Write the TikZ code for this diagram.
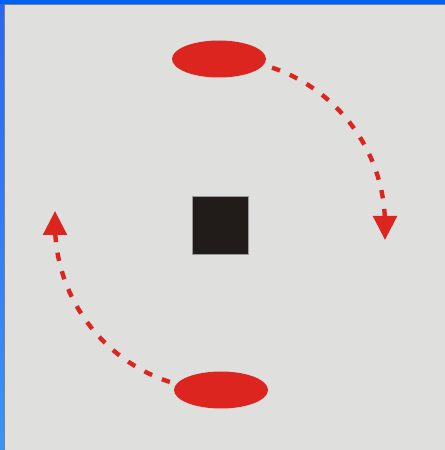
\documentclass[tikz,border=0pt]{standalone}
\usetikzlibrary{arrows.meta,shapes.geometric,backgrounds}
\definecolor{winblue}{HTML}{0062F2}
\definecolor{edgetop}{HTML}{2A66F0}
\definecolor{edgebot}{HTML}{3A94F4}
\definecolor{panelgray}{HTML}{DFDFDD}
\definecolor{blobred}{HTML}{DC251F}
\definecolor{boxblack}{HTML}{211C1A}
\tikzset{>={Triangle[length=18pt,width=17.5pt]}}
\tikzset{
  blob/.style={ellipse,fill=blobred,minimum width=70.5pt,minimum height=27.75pt,inner sep=0pt},
  block/.style={draw=gray!80,line width=0.6pt,fill=boxblack,minimum width=42pt,minimum height=43.5pt,inner sep=0pt},
  orbit/.style={draw=blobred,line width=3.3pt,dash pattern=on 6.3pt off 8pt,->}
}

\begin{document}
\begin{tikzpicture}[x=0.75pt,y=0.75pt]
  \useasboundingbox (0,0) rectangle (445,450);
  % Window frame
  \begin{scope}[on background layer]
    \shade[top color=edgetop,bottom color=edgebot] (0,0) rectangle (445,450);
    \fill[winblue] (0,445.7) rectangle (445,450);
    \fill[panelgray] (4.3,0) rectangle (445,445.7);
    \draw[line width=0.5pt,color=gray] (4.3,0) -- (4.3,445.7) -- (445,445.7);
  \end{scope}

  % Objects
  \node[blob] (top) at (219,391) {};
  \node[block] (box) at (220,225) {};
  \node[blob] (bottom) at (221,60) {};

  % Rotation arrows
  \begin{scope}[on background layer]
    \draw[orbit,dash phase=2.4pt] (top.center) arc[start angle=90,end angle=0,radius=166] -- ++(0,-15);
    \draw[orbit,dash phase=3.9pt] (bottom.center) arc[start angle=270,end angle=180,radius=166] -- ++(0,13);
  \end{scope}
\end{tikzpicture}
\end{document}
